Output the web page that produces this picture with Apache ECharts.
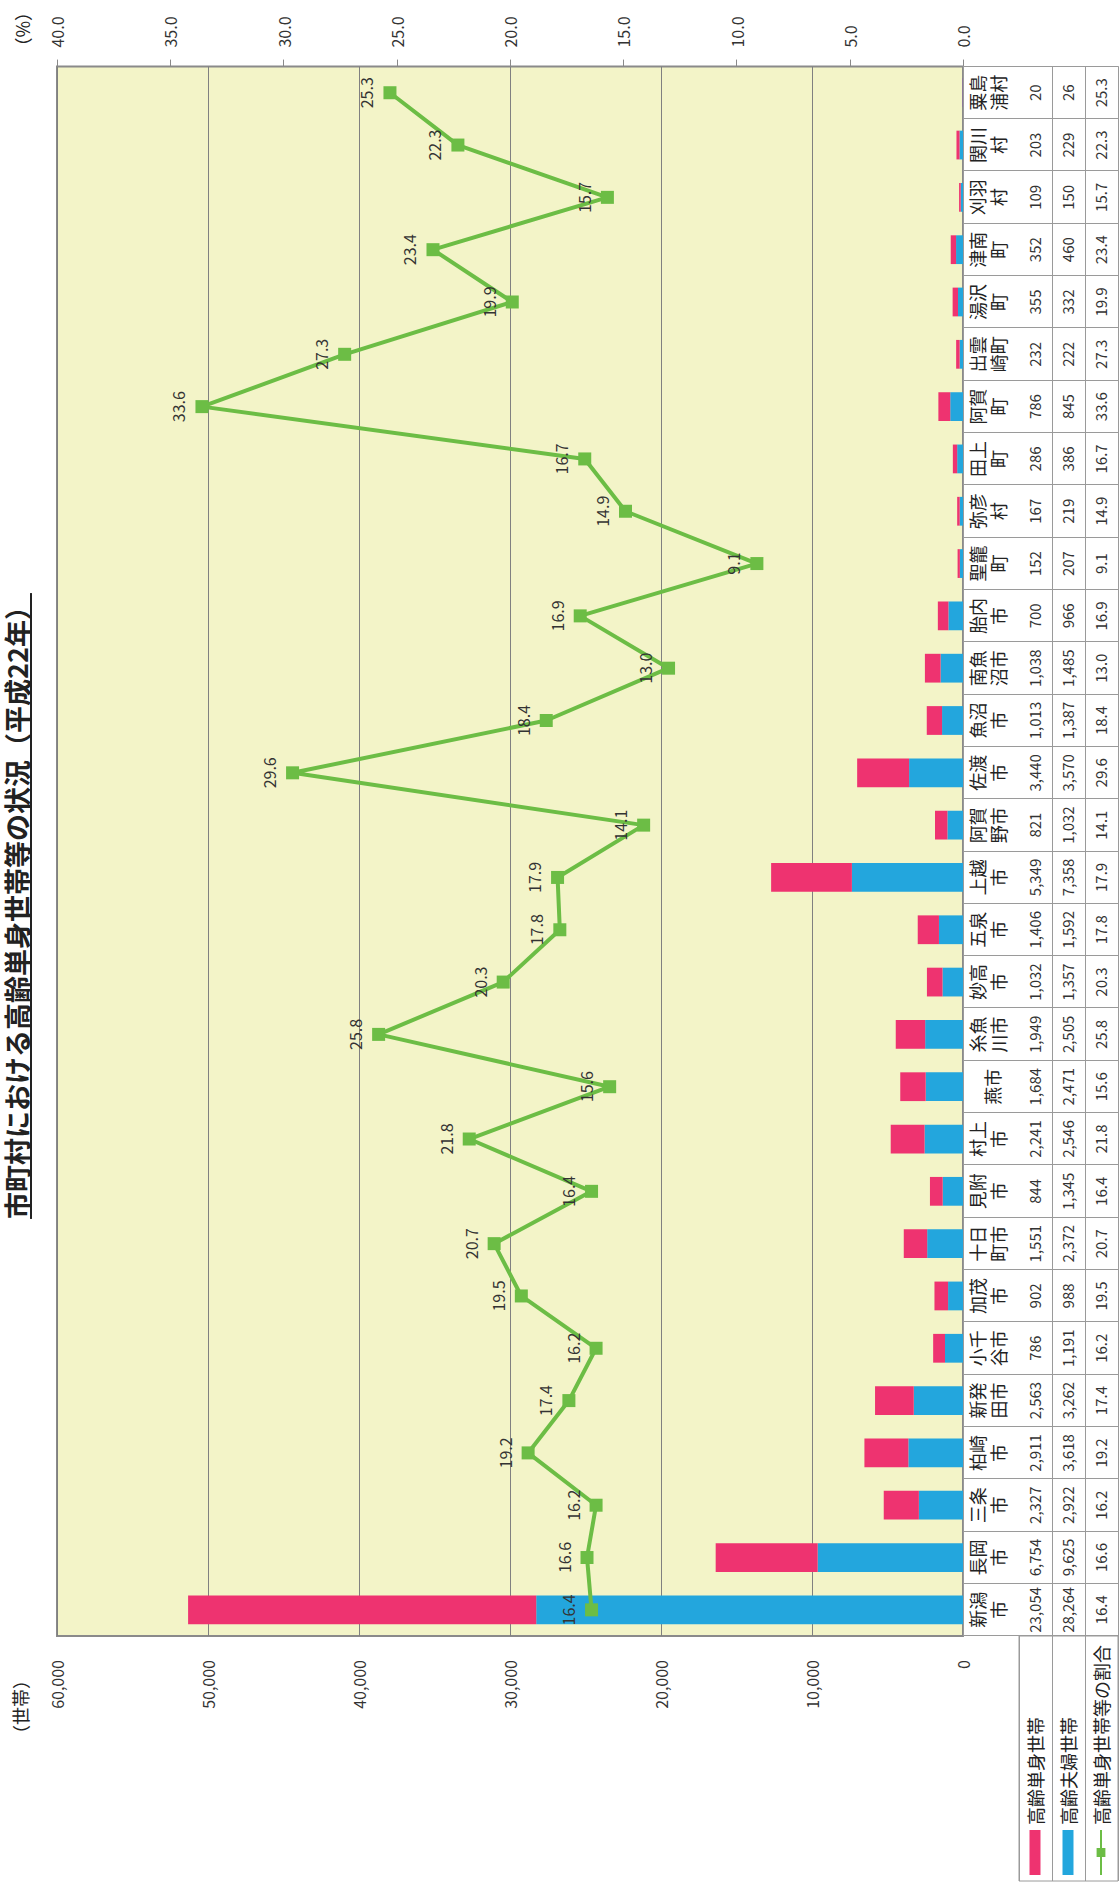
<!DOCTYPE html>
<html lang="ja">
<head>
<meta charset="utf-8">
<title>市町村における高齢単身世帯等の状況（平成22年）</title>
<script src="https://cdn.jsdelivr.net/npm/echarts@6/dist/echarts.min.js"></script>
<style>
  html, body { margin: 0; padding: 0; background: #fff; overflow: hidden; }
  body { width: 1119px; height: 1888px; position: relative; }
  /* 横向きの元レイアウトを左に90°回して縦長ページに収める */
  .page {
    position: absolute; left: 0; top: 0;
    width: 1888px; height: 1119px;
    transform-origin: 0 0;
    transform: translate(0, 1888px) rotate(-90deg);
  }
  #chart { position: absolute; left: 0; top: 0; width: 1888px; height: 1119px; }
  .title {
    position: absolute; top: 3px; left: 582px; width: 800px;
    text-align: center;
    font: bold 27px 'Noto Sans CJK JP', sans-serif;
    line-height: 28px;
    color: #222;
    text-decoration: underline;
    text-decoration-thickness: 2px;
    text-underline-offset: 2px;
  }
</style>
</head>
<body>
<div class="page">
  <div id="chart"></div>
  <div class="title">市町村における高齢単身世帯等の状況（平成22年）</div>
</div>
<script>
const categories = [
  '新潟\n市', '長岡\n市', '三条\n市', '柏崎\n市', '新発\n田市', '小千\n谷市', '加茂\n市', '十日\n町市',
  '見附\n市', '村上\n市', '燕市', '糸魚\n川市', '妙高\n市', '五泉\n市', '上越\n市', '阿賀\n野市',
  '佐渡\n市', '魚沼\n市', '南魚\n沼市', '胎内\n市', '聖籠\n町', '弥彦\n村', '田上\n町', '阿賀\n町',
  '出雲\n崎町', '湯沢\n町', '津南\n町', '刈羽\n村', '関川\n村', '粟島\n浦村'
];
const singleHouseholds = [
  23054, 6754, 2327, 2911, 2563, 786, 902, 1551, 844, 2241, 1684, 1949, 1032, 1406, 5349,
  821, 3440, 1013, 1038, 700, 152, 167, 286, 786, 232, 355, 352, 109, 203, 20
];
const coupleHouseholds = [
  28264, 9625, 2922, 3618, 3262, 1191, 988, 2372, 1345, 2546, 2471, 2505, 1357, 1592, 7358,
  1032, 3570, 1387, 1485, 966, 207, 219, 386, 845, 222, 332, 460, 150, 229, 26
];
const singleRatio = [
  16.4, 16.6, 16.2, 19.2, 17.4, 16.2, 19.5, 20.7, 16.4, 21.8, 15.6, 25.8, 20.3, 17.8, 17.9,
  14.1, 29.6, 18.4, 13.0, 16.9, 9.1, 14.9, 16.7, 33.6, 27.3, 19.9, 23.4, 15.7, 22.3, 25.3
];
const seriesNames = ['高齢単身世帯', '高齢夫婦世帯', '高齢単身世帯等の割合'];
const householdAxis = { min: 0, max: 60000, interval: 10000 };
const ratioAxis = { min: 0, max: 40, interval: 5 };

const FONT = "'Noto Sans CJK JP', 'Noto Sans', sans-serif";
const PINK = '#EE3370';
const BLUE = '#23A6DD';
const GREEN = '#6CBD45';
const LINE_GRAY = '#9a9a9a';

const fmtNum = v => v.toLocaleString('en-US');
const fmtPct = v => v.toFixed(1);

// 表の1行 = グリッド下に offset でずらしたカテゴリ軸
function tableRow(values, fmt, offset) {
  return {
    type: 'category', gridIndex: 0, position: 'bottom', offset: offset,
    data: categories,
    axisLine: { show: true, lineStyle: { color: LINE_GRAY, width: 1 } },
    axisTick: { show: false },
    axisLabel: {
      show: values != null, interval: 0, margin: 8,
      fontSize: 15, color: '#333', fontFamily: FONT,
      formatter: (v, i) => values ? fmt(values[i]) : ''
    }
  };
}

// 1行だけの名前（燕市）は2行分の高さで中央に置く
const categoryData = categories.map(c => c.includes('\n') ? c : { value: c, textStyle: { lineHeight: 52 } });

const chart = echarts.init(document.getElementById('chart'), null, { renderer: 'svg' });
chart.setOption({
  animation: false,
  textStyle: { fontFamily: FONT },
  grid: [
    {
      left: 252, right: 59, top: 57, bottom: 156,
      show: true, backgroundColor: '#F3F4C8',
      borderColor: '#8a8a8a', borderWidth: 2
    },
    {
      left: 7, top: 1019, width: 245, height: 99,
      show: true, backgroundColor: 'transparent',
      borderColor: LINE_GRAY, borderWidth: 1
    }
  ],
  legend: {
    orient: 'vertical', left: 12, top: 1025, height: 90, padding: 0,
    itemWidth: 45, itemHeight: 11, itemGap: 13,
    textStyle: { fontSize: 18, lineHeight: 20, color: '#222', fontFamily: FONT },
    data: [
      { name: seriesNames[0], icon: 'rect' },
      { name: seriesNames[1], icon: 'rect' },
      seriesNames[2]
    ]
  },
  xAxis: [
    {
      type: 'category', gridIndex: 0, position: 'bottom',
      data: categoryData,
      axisLine: { show: false },
      axisTick: { show: true, length: 155, lineStyle: { color: LINE_GRAY } },
      axisLabel: { interval: 0, margin: 3, fontSize: 18, lineHeight: 21, color: '#222', fontFamily: FONT }
    },
    tableRow(singleHouseholds, fmtNum, 56),
    tableRow(coupleHouseholds, fmtNum, 89),
    tableRow(singleRatio, fmtPct, 122),
    tableRow(null, null, 155),
    { type: 'value', gridIndex: 1, show: false }
  ],
  yAxis: [
    {
      type: 'value', gridIndex: 0, position: 'left',
      min: householdAxis.min, max: householdAxis.max, interval: householdAxis.interval,
      name: '（世帯）', nameLocation: 'end', nameGap: 37,
      nameTextStyle: { fontSize: 18, color: '#222', align: 'right', verticalAlign: 'middle', padding: [0, 35, 0, 0] },
      axisLine: { show: false },
      axisTick: { show: false },
      axisLabel: { margin: 24, fontSize: 16, color: '#333', formatter: fmtNum },
      splitLine: { show: true, lineStyle: { color: '#808080', width: 1 } }
    },
    {
      type: 'value', gridIndex: 0, position: 'right',
      min: ratioAxis.min, max: ratioAxis.max, interval: ratioAxis.interval,
      name: '（%）', nameLocation: 'end', nameGap: 35,
      nameTextStyle: { fontSize: 18, color: '#222', align: 'left', verticalAlign: 'middle', padding: [0, 0, 0, 11] },
      axisLine: { show: false },
      axisTick: { show: true, length: 7, lineStyle: { color: '#8a8a8a' } },
      axisLabel: { margin: 19, fontSize: 16, color: '#333', formatter: fmtPct },
      splitLine: { show: false }
    },
    {
      type: 'category', gridIndex: 1, data: seriesNames,
      axisLine: { show: false }, axisTick: { show: false }, axisLabel: { show: false },
      splitLine: { show: true, lineStyle: { color: LINE_GRAY, width: 1 } }
    }
  ],
  series: [
    {
      name: seriesNames[1], type: 'bar', stack: 'households',
      xAxisIndex: 0, yAxisIndex: 0,
      barWidth: '55%',
      itemStyle: { color: BLUE },
      data: coupleHouseholds
    },
    {
      name: seriesNames[0], type: 'bar', stack: 'households',
      xAxisIndex: 0, yAxisIndex: 0,
      itemStyle: { color: PINK },
      data: singleHouseholds
    },
    {
      name: seriesNames[2], type: 'line',
      xAxisIndex: 0, yAxisIndex: 1,
      symbol: 'rect', symbolSize: 13,
      lineStyle: { color: GREEN, width: 4 },
      itemStyle: { color: GREEN },
      label: {
        show: true, position: 'top', distance: 9,
        fontSize: 16, color: '#333', formatter: p => fmtPct(p.value)
      },
      data: singleRatio
    }
  ]
});
</script>
</body>
</html>
